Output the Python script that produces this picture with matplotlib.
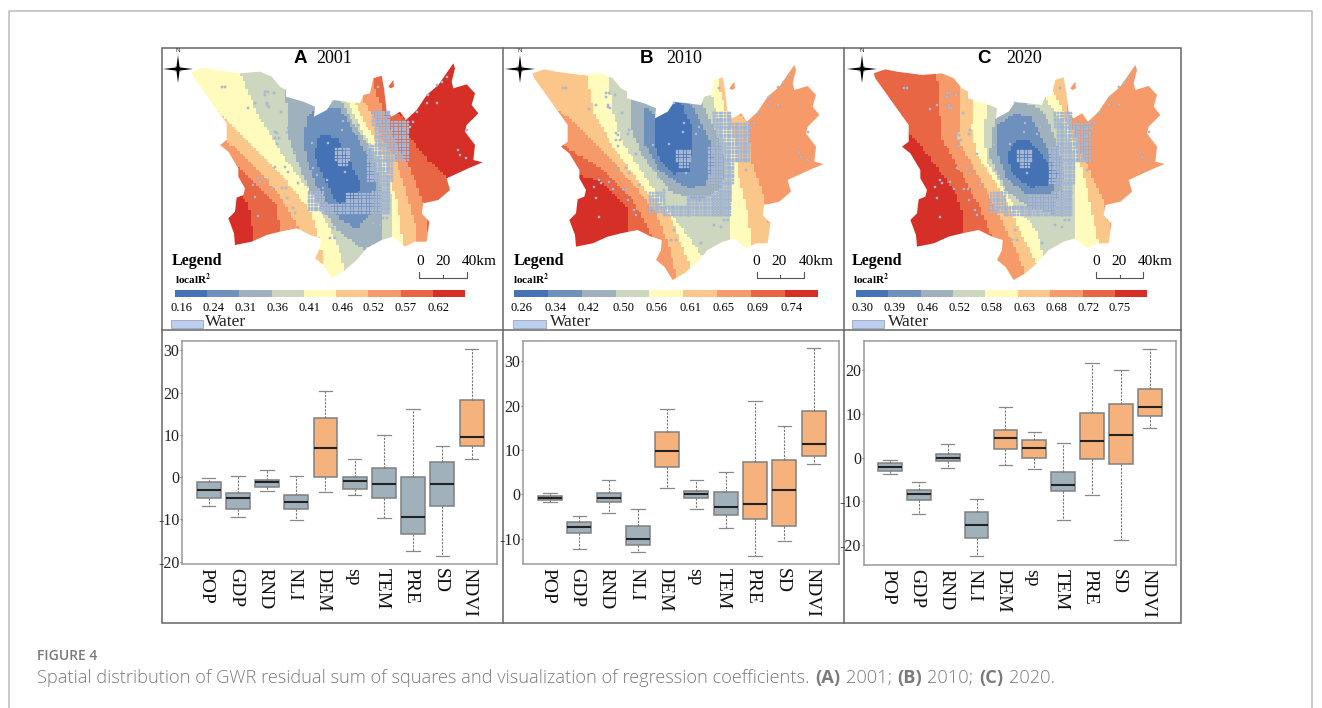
import numpy as np
import matplotlib
matplotlib.use("Agg")
import matplotlib.pyplot as plt
from matplotlib.colors import ListedColormap
from matplotlib.patches import Polygon, Rectangle
from matplotlib.path import Path

# ================================
# BOX PLOT DATA  (low, q1, median, q3, high)
# ================================
factors = ["POP", "GDP", "RND", "NLI", "DEM", "sp", "TEM", "PRE", "SD", "NDVI"]

box_low_a = [-6.8, -9.5, -3.3, -10.2, -3.6, -4.3, -9.7, -17.5, -18.6, 4.3]
box_q1_a = [-5.0, -7.6, -2.2, -7.6, 0.0, -2.8, -5.0, -13.5, -6.9, 7.3]
box_med_a = [-3.0, -5.0, -1.2, -5.9, 6.9, -0.9, -1.7, -9.3, -1.7, 9.5]
box_q3_a = [-1.2, -3.8, -0.7, -4.3, 14.0, 0.0, 2.1, 0.1, 3.6, 18.2]
box_high_a = [-0.2, 0.2, 1.7, 0.2, 20.3, 4.3, 10.0, 16.2, 7.3, 30.4]

box_low_b = [-1.7, -12.4, -4.2, -13.1, 1.35, -3.4, -7.7, -14.0, -10.6, 6.8]
box_q1_b = [-1.35, -8.8, -1.8, -11.5, 6.1, -0.9, -4.7, -5.5, -7.2, 8.6]
box_med_b = [-0.9, -7.4, -0.9, -10.2, 9.85, 0.0, -2.9, -2.2, 1.0, 11.3]
box_q3_b = [-0.45, -6.3, 0.2, -7.2, 14.0, 0.75, 0.45, 7.3, 7.7, 18.9]
box_high_b = [0.2, -4.8, 3.2, -3.4, 19.2, 3.2, 5.0, 21.0, 15.4, 32.9]

box_low_c = [-3.7, -13.0, -2.4, -22.6, -1.75, -2.7, -14.2, -8.6, -18.9, 6.7]
box_q1_c = [-3.0, -9.7, -0.85, -18.5, 2.05, -0.15, -7.7, -0.4, -1.4, 9.6]
box_med_c = [-2.05, -8.4, -0.1, -15.5, 4.6, 2.3, -6.2, 3.9, 5.3, 11.5]
box_q3_c = [-1.3, -7.5, 0.75, -12.5, 6.25, 4.0, -3.3, 10.3, 12.2, 15.8]
box_high_c = [-0.5, -5.5, 3.05, -9.5, 11.5, 5.9, 3.3, 21.8, 20.2, 25.0]

orange_a = ["DEM", "NDVI"]
orange_b = ["DEM", "PRE", "SD", "NDVI"]
orange_c = ["DEM", "sp", "PRE", "SD", "NDVI"]

# ================================
# MAP DATA (3x crop coordinates)
# ================================
class_colors = ["#4472B4", "#6E90BC", "#9FB1BC", "#CDD6BF", "#FEFBBD",
                "#FBC68A", "#F59A68", "#E86643", "#D62F27"]

outline = [(95, 80), (130, 68), (165, 75), (240, 85), (300, 80), (335, 95), (360, 125),
           (378, 135), (378, 155), (430, 170), (465, 185), (462, 215), (500, 195),
           (520, 165), (560, 170), (600, 175), (610, 150), (630, 145), (640, 100),
           (665, 92), (672, 130), (680, 200), (695, 215), (720, 200), (738, 225),
           (770, 195), (800, 150), (835, 120), (880, 55), (885, 70), (875, 110),
           (880, 130), (920, 118), (945, 145), (935, 180), (955, 205), (920, 240),
           (915, 260), (945, 300), (940, 345), (968, 352), (925, 370), (860, 400),
           (870, 435), (835, 465), (790, 475), (785, 505), (808, 530), (800, 590),
           (765, 590), (735, 605), (700, 575), (665, 585), (620, 610), (590, 645),
           (550, 680), (515, 700), (490, 660), (465, 640), (480, 610), (482, 580),
           (450, 570), (410, 550), (360, 560), (320, 570), (275, 590), (225, 600),
           (222, 565), (205, 520), (225, 500), (230, 458), (250, 450), (255, 430),
           (235, 395), (235, 370), (205, 320), (180, 300), (200, 285), (200, 235),
           (150, 165), (100, 95)]
island = [(685, 125), (700, 105), (702, 125), (692, 130)]

# painter order: (class, polygon), each one clipped to the outline
bands_a = [
    (8, [(0, 0), (1040, 0), (1040, 720), (0, 720)]),
    (7, [(20, 20), (670, 20), (700, 190), (742, 235), (745, 275), (800, 345), (872, 410),
         (880, 480), (820, 640), (600, 730), (400, 720), (300, 610), (278, 590), (275, 520),
         (262, 475), (235, 452), (150, 440), (20, 300)]),
    (6, [(20, 20), (625, 20), (640, 130), (690, 250), (710, 310), (745, 360), (790, 480),
         (810, 600), (760, 650), (600, 730), (420, 720), (362, 570), (350, 480), (290, 420),
         (235, 365), (150, 340), (20, 200)]),
    (5, [(20, 20), (610, 20), (610, 170), (640, 215), (670, 290), (700, 330), (725, 400),
         (770, 560), (775, 640), (600, 730), (440, 730), (415, 550), (350, 440), (260, 340),
         (205, 295), (20, 200)]),
    (4, [(20, 20), (585, 20), (585, 175), (625, 255), (665, 320), (690, 400), (712, 480),
         (730, 610), (730, 680), (600, 740), (510, 730), (490, 660), (480, 590), (450, 500),
         (380, 410), (300, 330), (198, 228), (60, 100)]),
    (3, [(240, 20), (562, 20), (562, 175), (605, 260), (650, 330), (685, 400), (697, 480),
         (700, 600), (640, 660), (560, 700), (540, 620), (470, 470), (380, 350), (290, 205),
         (240, 85)]),
    (2, [(378, 130), (460, 130), (540, 160), (580, 240), (640, 330), (662, 430), (665, 510),
         (668, 590), (610, 615), (530, 555), (440, 420), (385, 280)]),
    (1, [(462, 200), (500, 192), (540, 190), (585, 270), (625, 340), (650, 430), (630, 510),
         (590, 555), (540, 525), (465, 420), (430, 300), (440, 220)]),
    (0, [(490, 270), (530, 280), (570, 350), (600, 420), (590, 460), (535, 480), (495, 410),
         (465, 340), (470, 290)]),
]

bands_b = [
    (6, [(0, 0), (1040, 0), (1040, 730), (0, 730)]),
    (7, [(150, 260), (215, 320), (300, 370), (400, 470), (465, 590), (380, 640), (150, 640)]),
    (8, [(240, 395), (300, 410), (380, 490), (388, 560), (300, 620), (190, 630), (190, 400)]),
    (5, [(20, 20), (710, 20), (710, 200), (745, 240), (750, 340), (795, 470), (815, 620),
         (700, 720), (540, 730), (530, 700), (510, 610), (470, 510), (400, 420), (300, 310),
         (215, 225), (20, 100)]),
    (4, [(245, 20), (650, 20), (655, 130), (682, 215), (712, 320), (715, 400), (745, 520),
         (755, 620), (680, 700), (590, 700), (575, 680), (510, 510), (430, 430), (340, 310),
         (280, 200)]),
    (3, [(325, 20), (610, 20), (635, 160), (655, 240), (690, 340), (695, 420), (685, 600),
         (610, 640), (560, 570), (500, 490), (430, 390), (365, 290), (338, 200), (325, 100)]),
    (2, [(390, 100), (575, 100), (610, 190), (650, 270), (675, 350), (665, 430), (600, 470),
         (510, 440), (430, 340), (392, 250)]),
    (1, [(430, 185), (465, 210), (515, 170), (560, 175), (580, 190), (630, 290), (640, 370),
         (610, 425), (560, 430), (480, 380), (430, 290)]),
    (0, [(465, 215), (515, 170), (545, 180), (575, 250), (575, 320), (565, 380), (520, 390),
         (480, 350), (460, 280)]),
]

bands_c = [
    (6, [(0, 0), (1040, 0), (1040, 730), (0, 730)]),
    (7, [(20, 20), (290, 20), (290, 85), (305, 280), (420, 490), (440, 540), (465, 600),
         (300, 640), (150, 600), (20, 300)]),
    (8, [(215, 270), (345, 440), (372, 520), (370, 575), (225, 620), (180, 500), (180, 250)]),
    (5, [(362, 20), (680, 20), (682, 200), (725, 330), (790, 470), (820, 590), (700, 720),
         (570, 720), (530, 620), (430, 420), (355, 290), (362, 130)]),
    (4, [(410, 100), (610, 100), (645, 155), (685, 240), (710, 320), (735, 410), (775, 600),
         (680, 690), (605, 690), (560, 600), (490, 450), (410, 330), (395, 250)]),
    (3, [(445, 175), (530, 120), (615, 165), (670, 240), (700, 320), (700, 430), (700, 590),
         (610, 640), (590, 560), (520, 480), (440, 350), (430, 260)]),
    (2, [(470, 215), (515, 170), (580, 185), (610, 200), (655, 310), (670, 400), (640, 510),
         (570, 490), (500, 440), (450, 340), (455, 270)]),
    (1, [(475, 240), (520, 210), (570, 215), (620, 310), (655, 395), (630, 450), (560, 450),
         (500, 400), (470, 320)]),
    (0, [(505, 320), (535, 285), (565, 285), (620, 350), (635, 380), (625, 420), (570, 430),
         (520, 390), (503, 350)]),
]

water_blocks = [(640, 205, 690, 240), (650, 235, 745, 310), (630, 305, 745, 345),
                (630, 345, 700, 410), (660, 410, 690, 440), (450, 440, 490, 500),
                (490, 480, 565, 505), (565, 455, 680, 505), (640, 440, 690, 510),
                (530, 318, 575, 345), (540, 345, 565, 365)]
water_cells = [(185, 125), (195, 125), (315, 140), (325, 140), (315, 150), (342, 145), (320, 175),
               (328, 185), (322, 180), (265, 188), (285, 175), (362, 200), (385, 250), (380, 262),
               (345, 260), (352, 265), (358, 280), (345, 280), (350, 298), (405, 322), (455, 295),
               (505, 293), (520, 170), (548, 228), (595, 240), (585, 262), (545, 255), (555, 380),
               (500, 405), (345, 365), (375, 365), (385, 380), (295, 400), (300, 410), (280, 420),
               (335, 428), (325, 405), (365, 428), (378, 428), (285, 455), (380, 460), (415, 415),
               (400, 490), (405, 505), (295, 512), (458, 370), (470, 390), (490, 430), (520, 550),
               (510, 580), (525, 580), (600, 590), (640, 535), (660, 540), (670, 520), (680, 520),
               (735, 370), (895, 315), (900, 330), (918, 340), (920, 255), (800, 175), (830, 175),
               (805, 150), (830, 120), (860, 95), (845, 110), (770, 200), (760, 230), (745, 230),
               (745, 260), (750, 245), (655, 125), (640, 200)]

legend_labels_a = ["0.16", "0.24", "0.31", "0.36", "0.41", "0.46", "0.52", "0.57", "0.62"]
legend_labels_b = ["0.26", "0.34", "0.42", "0.50", "0.56", "0.61", "0.65", "0.69", "0.74"]
legend_labels_c = ["0.30", "0.39", "0.46", "0.52", "0.58", "0.63", "0.68", "0.72", "0.75"]

letters = ["A", "B", "C"]
years = ["2001", "2010", "2020"]

# ================================
# PAGE SETUP, everything but the box plots goes on a pixel axes
# ================================
plt.rcParams["font.family"] = ["Liberation Serif", "DejaVu Serif"]
plt.rcParams["axes.unicode_minus"] = False

fig = plt.figure(figsize=(13.22, 7.08), dpi=100)
page = fig.add_axes([0, 0, 1, 1])
page.axis("off")

page.plot([9, 9, 1312, 1312], [708, 10.5, 10.5, 708], color="#BBBBBB", lw=1.1)

frame_color = "#666666"
page.add_patch(Rectangle((161.5, 47.5), 1019, 575.5, fill=False, ec=frame_color, lw=1.1))
page.plot([161.5, 1180.5], [330, 330], color=frame_color, lw=1.1)
page.plot([502.5, 502.5], [47.5, 623], color=frame_color, lw=1.1)
page.plot([844, 844], [47.5, 623], color=frame_color, lw=1.1)

# ================================
# MAP PANELS
# ================================
panels = [
    dict(x0=160, dx=0, dy=0, bands=bands_a, labels=legend_labels_a, bar=(45, 915, 736, 755),
         pos=[65, 160, 257, 352, 448, 546, 640, 738, 835], letter_x=420, year_x=522,
         legend_x=35, local_x=45, scale_x=(780, 848, 958), bar_x=(778, 920),
         swatch=(33, 130), water_x=135),
    dict(x0=500, dx=3, dy=5, bands=bands_b, labels=legend_labels_b, bar=(43, 955, 735, 756),
         pos=[65, 166, 267, 370, 470, 572, 671, 773, 874], letter_x=440, year_x=553,
         legend_x=40, local_x=40, scale_x=(770, 838, 948), bar_x=(770, 912),
         swatch=(38, 138), water_x=150),
    dict(x0=840, dx=6, dy=5, bands=bands_c, labels=legend_labels_c, bar=(48, 922, 736, 756),
         pos=[67, 164, 262, 358, 454, 552, 648, 745, 840], letter_x=432, year_x=552,
         legend_x=36, local_x=38, scale_x=(768, 836, 947), bar_x=(769, 910),
         swatch=(36, 133), water_x=143),
]

y0 = 45
cell = 8
water_x, water_y = [], []
for x1, y1, x2, y2 in water_blocks:
    for gx in np.arange(x1 - x1 % cell, x2 + 1, cell):
        for gy in np.arange(y1 - y1 % cell, y2 + 1, cell):
            water_x.append(gx)
            water_y.append(gy)
water_x = np.array(water_x + [c[0] for c in water_cells], dtype=float)
water_y = np.array(water_y + [c[1] for c in water_cells], dtype=float)

cmap = ListedColormap(class_colors)
star_long = [(0, -14), (1.6, -1.6), (15, 0), (1.6, 1.6), (0, 14), (-1.6, 1.6), (-15, 0), (-1.6, -1.6)]
star_short = [(-4.5, -4.5), (0, -1.2), (4.5, -4.5), (1.2, 0), (4.5, 4.5), (0, 1.2), (-4.5, 4.5), (-1.2, 0)]

for i, p in enumerate(panels):
    x0 = p["x0"]

    def to_page(pts, shift=False):
        pts = np.asarray(pts, dtype=float)
        sx = p["dx"] if shift else 0
        sy = p["dy"] if shift else 0
        return np.column_stack([x0 + (pts[:, 0] + sx) / 3, y0 + (pts[:, 1] + sy) / 3])

    # the bands are a stepped raster in the original, so fill a coarse grid with them
    gx, gy = np.meshgrid(np.arange(0, 1040, cell), np.arange(0, 736, cell))
    centres = np.column_stack([gx.ravel() + cell / 2, gy.ravel() + cell / 2])
    grid = np.zeros(len(centres), dtype=int)
    for cls, pts in p["bands"]:
        grid[Path(pts).contains_points(centres)] = cls
    grid = grid.reshape(gx.shape)
    clip = Polygon(to_page(outline, True), closed=True, transform=page.transData)
    im = page.imshow(grid, cmap=cmap, vmin=-0.5, vmax=8.5, interpolation="nearest", aspect="auto",
                     extent=(x0, x0 + 1040 / 3, y0 + 736 / 3, y0))
    im.set_clip_path(clip)
    page.add_patch(Polygon(to_page(island, True), closed=True,
                           fc=class_colors[[7, 6, 6][i]], ec="none"))

    page.scatter(x0 + (water_x + p["dx"]) / 3, y0 + (water_y + p["dy"]) / 3, marker="s", s=4.4,
                 fc="#B3C5E3", ec="#94A7C4", lw=0.3, zorder=3)

    # title
    page.text(x0 + p["letter_x"] / 3, y0 + 40 / 3, letters[i], family="Liberation Sans",
              fontweight="bold", fontsize=13.5, ha="center", va="center")
    page.text(x0 + p["year_x"] / 3, y0 + 41 / 3, years[i], fontsize=13, ha="center", va="center")

    # compass
    cx = x0 + (54 + p["dx"] * 2) / 3
    cy = y0 + 72 / 3
    page.add_patch(Polygon([(cx + a * 0.75, cy + b * 0.75) for a, b in star_short], closed=True,
                           fc="#777777", ec="none", zorder=4))
    page.add_patch(Polygon([(cx + a, cy + b) for a, b in star_long], closed=True,
                           fc="black", ec="none", zorder=4))
    page.text(cx, cy - 19, "N", family="Liberation Sans", fontsize=4.5, color="#333333",
              ha="center", va="center")

    # legend
    page.text(x0 + p["legend_x"] / 3, y0 + 647 / 3, "Legend", fontweight="bold", fontsize=11.5,
              va="center")
    page.text(x0 + p["local_x"] / 3, y0 + 703 / 3, "localR$\\mathbf{^2}$", fontweight="bold", fontsize=8,
              va="center", math_fontfamily="stix")
    bx1, bx2, by1, by2 = p["bar"]
    edges = np.linspace(bx1, bx2, 10)
    for k in range(9):
        page.add_patch(Rectangle((x0 + edges[k] / 3, y0 + by1 / 3), (edges[k + 1] - edges[k]) / 3,
                                 (by2 - by1) / 3, fc=class_colors[k], ec="none"))
        page.text(x0 + p["pos"][k] / 3, y0 + 788 / 3, p["labels"][k], fontsize=9,
                  ha="center", va="center")
    sw1, sw2 = p["swatch"]
    page.add_patch(Rectangle((x0 + sw1 / 3, y0 + 826 / 3), (sw2 - sw1) / 3, 22 / 3, fc="#BDCFF0",
                             ec="#9AA5B5", lw=0.6))
    page.text(x0 + p["water_x"] / 3, y0 + 830 / 3, "Water", fontsize=12.5, va="center", color="#222222")

    # scale bar
    sx1, sx2 = p["bar_x"]
    sxm = (sx1 + sx2) / 2
    for lab, lx in zip(["0", "20", "40km"], p["scale_x"]):
        page.text(x0 + lx / 3, y0 + 650 / 3, lab, fontsize=11, ha="center", va="center")
    page.plot([x0 + sx1 / 3, x0 + sx1 / 3, x0 + sx2 / 3, x0 + sx2 / 3],
              [y0 + 682 / 3, y0 + 700 / 3, y0 + 700 / 3, y0 + 682 / 3], color="#555555", lw=0.8)
    page.plot([x0 + sxm / 3, x0 + sxm / 3], [y0 + 691 / 3, y0 + 700 / 3], color="#555555", lw=0.8)

page.set_xlim(0, 1322)
page.set_ylim(708, 0)

# ================================
# BOX PLOTS
# ================================
box_panels = [
    dict(rect=(182.3, 340.7, 497.3, 564.3), ylim=(-20.6, 32.3), ticks=[-20, -10, 0, 10, 20, 30],
         xlim=(-0.90, 9.88), orange=orange_a,
         data=(box_low_a, box_q1_a, box_med_a, box_q3_a, box_high_a)),
    dict(rect=(523.3, 340.7, 839.3, 564.3), ylim=(-15.8, 34.66), ticks=[-10, 0, 10, 20, 30],
         xlim=(-0.91, 9.875), orange=orange_b,
         data=(box_low_b, box_q1_b, box_med_b, box_q3_b, box_high_b)),
    dict(rect=(864, 340.7, 1175.7, 565), ylim=(-24.6, 26.8), ticks=[-20, -10, 0, 10, 20],
         xlim=(-0.90, 9.9), orange=orange_c,
         data=(box_low_c, box_q1_c, box_med_c, box_q3_c, box_high_c)),
]

for bp in box_panels:
    l, t, r, b = bp["rect"]
    ax = fig.add_axes([l / 1322, 1 - b / 708, (r - l) / 1322, (b - t) / 708])
    low, q1, med, q3, high = bp["data"]
    stats = [dict(whislo=low[k], q1=q1[k], med=med[k], q3=q3[k], whishi=high[k], fliers=[])
             for k in range(len(factors))]
    art = ax.bxp(stats, positions=range(len(factors)), widths=0.82, patch_artist=True,
                 showfliers=False,
                 boxprops=dict(ec="#808080", lw=1.1),
                 medianprops=dict(color="#222222", lw=1.5),
                 whiskerprops=dict(color="#777777", lw=0.8, ls=(0, (2, 1.2))),
                 capprops=dict(color="#888888", lw=0.9), capwidths=0.46)
    for name, box in zip(factors, art["boxes"]):
        box.set_facecolor("#F6B27C" if name in bp["orange"] else "#A0B1BC")
    ax.set_xlim(*bp["xlim"])
    ax.set_ylim(*bp["ylim"])
    ax.set_yticks(bp["ticks"])
    ax.set_xticks([])
    # labels go through annotate so the rotated text can sit on the box centres
    for k, name in enumerate(factors):
        ax.annotate(name, xy=(k, 0), xycoords=ax.get_xaxis_transform(), xytext=(-1.6, -3),
                    textcoords="offset points", rotation=-90, fontsize=14, color="#111111",
                    ha="center", va="top", annotation_clip=False)
    ax.tick_params(axis="y", length=1.5, pad=0.5, labelsize=11.5, color="#666666", labelcolor="#222222")
    for s in ax.spines.values():
        s.set_color("#999999")
        s.set_linewidth(1.1)

# ================================
# CAPTION
# ================================
caption_color = "#7A7A7A"
page.text(37, 656, "FIGURE 4", family="Open Sans", fontweight="semibold", fontsize=10,
          color=caption_color, va="center")

caption_parts = [("Spatial distribution of GWR residual sum of squares and visualization of "
                  "regression coefficients.", "light"),
                 ("(A)", "bold"), ("2001;", "light"), ("(B)", "bold"), ("2010;", "light"),
                 ("(C)", "bold"), ("2020.", "light")]
fig.canvas.draw()
renderer = fig.canvas.get_renderer()
cur_x = 37.0
for part, weight in caption_parts:
    t = page.text(cur_x, 678, part, family="Open Sans", fontweight=weight, fontsize=13.15,
                  color=caption_color, va="center")
    cur_x += t.get_window_extent(renderer).width + 5.5

fig.savefig("out.png", dpi=100)
